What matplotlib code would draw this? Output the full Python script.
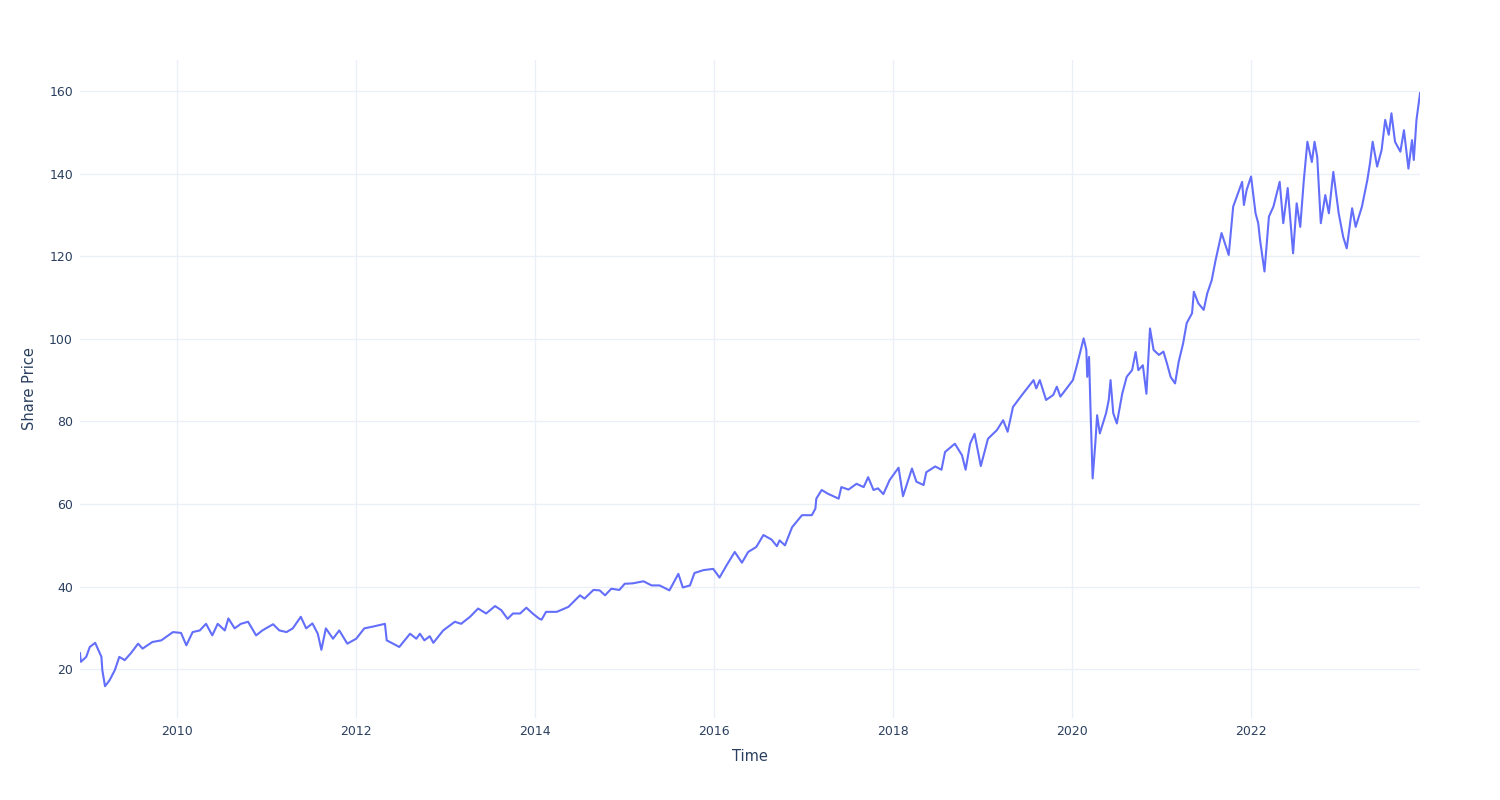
import matplotlib
matplotlib.use("Agg")
import matplotlib.pyplot as plt
import matplotlib.dates as mdates
import pandas as pd
import numpy as np

# Share price (decimal year, price)
years = [
    2008.91, 2008.92, 2008.98, 2009.02, 2009.08, 2009.15, 2009.16, 2009.19, 2009.24, 2009.30,
    2009.35, 2009.41, 2009.48, 2009.56, 2009.61, 2009.72, 2009.82, 2009.95, 2010.04, 2010.10,
    2010.17, 2010.25, 2010.32, 2010.39, 2010.45, 2010.53, 2010.57, 2010.64, 2010.71, 2010.79,
    2010.88, 2010.95, 2011.07, 2011.14, 2011.22, 2011.29, 2011.38, 2011.44, 2011.51, 2011.57,
    2011.61, 2011.66, 2011.74, 2011.81, 2011.90, 2012.00, 2012.09, 2012.18, 2012.32, 2012.34,
    2012.41, 2012.48, 2012.60, 2012.67, 2012.71, 2012.76, 2012.82, 2012.86, 2012.97, 2013.10,
    2013.17, 2013.27, 2013.36, 2013.45, 2013.55, 2013.62, 2013.69, 2013.75, 2013.83, 2013.90,
    2013.97, 2014.04, 2014.07, 2014.12, 2014.24, 2014.37, 2014.50, 2014.55, 2014.65, 2014.72,
    2014.78, 2014.85, 2014.94, 2015.00, 2015.09, 2015.21, 2015.30, 2015.39, 2015.50, 2015.60,
    2015.65, 2015.73, 2015.78, 2015.88, 2015.99, 2016.06, 2016.14, 2016.23, 2016.31, 2016.38,
    2016.47, 2016.55, 2016.64, 2016.70, 2016.73, 2016.79, 2016.87, 2016.98, 2017.09, 2017.13,
    2017.14, 2017.20, 2017.27, 2017.39, 2017.42, 2017.50, 2017.59, 2017.67, 2017.72, 2017.78,
    2017.83, 2017.89, 2017.96, 2018.06, 2018.11, 2018.21, 2018.26, 2018.34, 2018.37, 2018.47,
    2018.54, 2018.58, 2018.69, 2018.77, 2018.81, 2018.86, 2018.91, 2018.98, 2019.06, 2019.16,
    2019.23, 2019.28, 2019.34, 2019.44, 2019.57, 2019.60, 2019.64, 2019.71, 2019.79, 2019.83,
    2019.87, 2020.01, 2020.05, 2020.13, 2020.16, 2020.17, 2020.19, 2020.21, 2020.23, 2020.26,
    2020.28, 2020.31, 2020.38, 2020.41, 2020.43, 2020.46, 2020.50, 2020.56, 2020.61, 2020.67,
    2020.71, 2020.74, 2020.79, 2020.83, 2020.87, 2020.91, 2020.97, 2021.02, 2021.06, 2021.10,
    2021.15, 2021.19, 2021.24, 2021.28, 2021.34, 2021.36, 2021.41, 2021.47, 2021.51, 2021.56,
    2021.60, 2021.67, 2021.75, 2021.80, 2021.84, 2021.90, 2021.92, 2021.95, 2022.00, 2022.05,
    2022.08, 2022.10, 2022.15, 2022.20, 2022.25, 2022.32, 2022.36, 2022.41, 2022.47, 2022.51,
    2022.55, 2022.59, 2022.63, 2022.68, 2022.71, 2022.74, 2022.78, 2022.83, 2022.87, 2022.92,
    2022.98, 2023.03, 2023.07, 2023.13, 2023.17, 2023.24, 2023.30, 2023.33, 2023.36, 2023.41,
    2023.46, 2023.50, 2023.54, 2023.57, 2023.61, 2023.67, 2023.71, 2023.76, 2023.80, 2023.82,
    2023.85, 2023.89,
]
prices = [
    23.9, 21.8, 23.0, 25.4, 26.4, 23.0, 19.8, 15.9, 17.3, 19.8,
    23.0, 22.2, 23.9, 26.2, 25.0, 26.6, 27.0, 29.0, 28.8, 25.8,
    29.0, 29.4, 31.0, 28.2, 31.0, 29.4, 32.3, 29.9, 31.0, 31.5,
    28.2, 29.4, 30.9, 29.4, 29.0, 29.9, 32.7, 29.9, 31.1, 28.6,
    24.7, 29.9, 27.4, 29.4, 26.2, 27.4, 29.9, 30.3, 31.0, 27.0,
    26.2, 25.4, 28.6, 27.4, 28.6, 27.0, 28.0, 26.4, 29.4, 31.5,
    31.0, 32.7, 34.7, 33.5, 35.3, 34.3, 32.2, 33.5, 33.5, 34.9,
    33.5, 32.3, 32.0, 33.9, 33.9, 35.1, 37.9, 37.1, 39.2, 39.1,
    37.9, 39.5, 39.2, 40.7, 40.8, 41.3, 40.3, 40.3, 39.1, 43.1,
    39.8, 40.3, 43.3, 44.0, 44.3, 42.2, 45.2, 48.4, 45.8, 48.4,
    49.6, 52.5, 51.4, 49.8, 51.2, 50.0, 54.4, 57.3, 57.3, 58.9,
    61.3, 63.4, 62.5, 61.3, 64.1, 63.5, 64.9, 64.1, 66.5, 63.4,
    63.8, 62.4, 65.8, 68.8, 61.9, 68.6, 65.4, 64.6, 67.7, 69.1,
    68.3, 72.6, 74.6, 71.8, 68.3, 74.6, 77.0, 69.2, 75.8, 77.9,
    80.3, 77.5, 83.5, 86.4, 90.0, 88.0, 90.0, 85.2, 86.4, 88.4,
    86.0, 90.0, 93.2, 100.1, 97.3, 90.8, 95.6, 80.3, 66.2, 74.7,
    81.5, 77.1, 82.0, 85.2, 90.0, 82.0, 79.5, 86.7, 90.8, 92.4,
    96.8, 92.4, 93.6, 86.7, 102.5, 97.3, 96.1, 96.9, 94.0, 90.8,
    89.2, 94.4, 98.9, 103.8, 106.2, 111.4, 108.6, 107.0, 111.0, 114.2,
    118.7, 125.6, 120.3, 132.0, 134.4, 138.0, 132.4, 136.0, 139.3, 130.4,
    128.0, 124.0, 116.3, 129.6, 132.0, 138.0, 128.0, 136.5, 120.7, 132.8,
    127.1, 138.4, 147.7, 142.8, 147.7, 144.0, 128.0, 134.8, 130.4, 140.4,
    130.4, 124.7, 121.9, 131.6, 127.1, 132.0, 138.4, 142.5, 147.7, 141.7,
    145.7, 153.0, 149.4, 154.6, 147.7, 145.3, 150.5, 141.2, 148.1, 143.3,
    153.0, 159.5,
]

y_ticks = [20, 40, 60, 80, 100, 120, 140, 160]
x_tick_years = [2010, 2012, 2014, 2016, 2018, 2020, 2022]


def to_date(y):
    yr = int(y)
    start = pd.Timestamp(year=yr, month=1, day=1)
    end = pd.Timestamp(year=yr + 1, month=1, day=1)
    return start + (end - start) * (y - yr)


dates = [to_date(y) for y in years]

fig = plt.figure(figsize=(15, 8), dpi=100)
ax = fig.add_axes([0.0533, 0.1025, 0.8934, 0.8225])

ax.plot(dates, prices, color="#636EFA", linewidth=1.5)

ax.set_xlim(dates[0], dates[-1])
ax.set_ylim(8.2, 167.5)

ax.set_yticks(y_ticks)
ax.set_xticks([pd.Timestamp(year=y, month=1, day=1) for y in x_tick_years])
ax.xaxis.set_major_formatter(mdates.DateFormatter("%Y"))

ax.grid(True, color="#EBF0F8", linewidth=1)
ax.set_axisbelow(True)
for s in ax.spines.values():
    s.set_visible(False)
ax.tick_params(length=0, labelsize=9, colors="#2a3f5f", pad=5)

ax.set_xlabel("Time", fontsize=10.5, color="#2a3f5f", labelpad=8)
ax.set_ylabel("Share Price", fontsize=10.5, color="#2a3f5f", labelpad=9)

fig.savefig("out.png", dpi=100, facecolor="white")
